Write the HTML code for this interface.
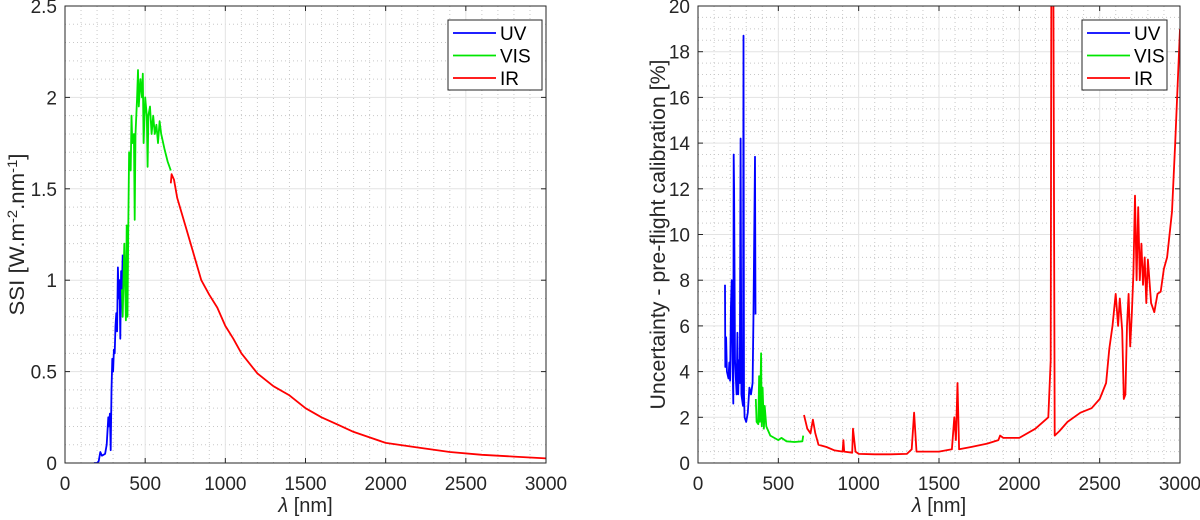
<!DOCTYPE html>
<html><head><meta charset="utf-8"><style>
html,body{margin:0;padding:0;background:#fff}
svg{display:block;font-family:"Liberation Sans",sans-serif}
</style></head><body>
<svg id="chart" width="1200" height="520" viewBox="0 0 1200 520" xmlns="http://www.w3.org/2000/svg"></svg>
<script>
// ---- Left chart data: SSI ----
const ssiUV = [[180,0],[200,0],[210,0.01],[220,0.06],[230,0.04],[250,0.05],[260,0.1],[270,0.25],[275,0.2],[280,0.27],[285,0.07],[290,0.4],[295,0.57],[300,0.5],[305,0.62],[310,0.6],[315,0.75],[320,0.82],[325,0.72],[330,1.07],[335,0.9],[340,1.0],[345,0.68],[350,1.05],[355,0.95],[360,1.14]];
const ssiVIS = [[355,0.95],[360,0.8],[370,1.2],[380,0.78],[385,1.3],[390,0.8],[395,1.3],[400,1.7],[410,1.6],[415,1.9],[420,1.75],[430,1.8],[435,1.33],[440,1.8],[450,2.0],[455,2.15],[460,1.95],[470,2.1],[480,2.0],[485,2.13],[490,1.75],[500,2.0],[510,1.9],[515,1.62],[520,1.9],[530,1.95],[540,1.8],[550,1.9],[560,1.8],[570,1.85],[580,1.75],[590,1.87],[600,1.8],[620,1.72],[640,1.65],[660,1.6]];
const ssiIR = [[660,1.53],[665,1.58],[680,1.55],[700,1.45],[750,1.3],[800,1.15],[850,1.0],[900,0.92],[950,0.85],[1000,0.75],[1050,0.68],[1100,0.6],[1200,0.49],[1300,0.42],[1400,0.37],[1500,0.3],[1600,0.25],[1700,0.21],[1800,0.17],[1900,0.14],[2000,0.11],[2200,0.085],[2400,0.06],[2600,0.045],[2800,0.035],[3000,0.025]];
const ssiYTicks = [0,0.5,1,1.5,2,2.5];
const xTicks = [0,500,1000,1500,2000,2500,3000];
// ---- Right chart data: uncertainty ----
const uncUV = [[168,7.8],[170,4.2],[175,5.5],[180,4.0],[190,3.7],[195,4.4],[200,3.6],[205,6.8],[210,8.0],[215,4.5],[220,2.6],[222,13.5],[225,12],[230,4.5],[240,3.0],[245,5.7],[250,3.0],[255,4.5],[260,3.5],[265,14.2],[270,3.0],[280,2.5],[283,18.7],[286,3.0],[290,2.0],[300,1.8],[310,2.2],[320,3.3],[330,3.0],[340,3.5],[345,6.2],[355,13.4],[358,6.5]];
const uncVIS = [[360,2.8],[365,1.8],[375,1.7],[380,3.8],[385,1.8],[393,4.8],[397,1.6],[402,3.3],[410,1.5],[415,2.5],[425,1.6],[450,1.2],[500,1.0],[520,1.1],[550,0.95],[600,0.92],[650,0.95],[655,1.2]];
const uncIR = [[660,2.1],[680,1.5],[700,1.3],[715,1.9],[730,1.3],[750,0.8],[800,0.7],[850,0.55],[900,0.5],[905,1.0],[910,0.5],[960,0.45],[965,1.5],[980,0.5],[1000,0.4],[1100,0.38],[1200,0.38],[1300,0.4],[1330,0.6],[1345,2.2],[1360,0.5],[1400,0.5],[1500,0.5],[1580,0.6],[1595,2.0],[1605,1.0],[1615,3.5],[1625,0.6],[1700,0.7],[1800,0.85],[1870,1.0],[1880,1.2],[1900,1.1],[2000,1.1],[2100,1.5],[2180,2.0],[2195,4.5],[2200,25],[2210,25],[2220,1.2],[2250,1.4],[2300,1.8],[2380,2.2],[2450,2.4],[2500,2.8],[2540,3.5],[2560,5.0],[2580,6.0],[2600,7.4],[2615,6.0],[2625,7.2],[2640,5.8],[2650,2.8],[2660,3.0],[2670,6.0],[2680,7.4],[2690,5.1],[2700,6.5],[2710,8.3],[2720,11.7],[2730,8.0],[2740,11.2],[2750,8.0],[2760,9.6],[2770,7.8],[2780,9.0],[2790,7.0],[2800,8.9],[2820,7.0],[2840,6.6],[2860,7.4],[2880,7.5],[2900,8.5],[2920,9.0],[2950,11],[2970,14],[3000,19]];
const uncYTicks = [0,2,4,6,8,10,12,14,16,18,20];
const legendLabels = ["UV","VIS","IR"];
const colors = ["#0000ff","#00e600","#ff0000"];

const svg = document.getElementById('chart');
const NS = "http://www.w3.org/2000/svg";
function mk(tag, attrs, parent){const e=document.createElementNS(NS,tag);for(const k in attrs)e.setAttribute(k,attrs[k]);(parent||svg).appendChild(e);return e;}

function drawPanel(o){
  const g = mk('g',{});
  
  
  const sx = v => o.x0 + (v/3000)*(o.x1-o.x0);
  const sy = v => o.y1 - (v/o.ymax)*(o.y1-o.y0);
  for(let v=100; v<3000; v+=100){ if(v%500) mk('line',{x1:sx(v),x2:sx(v),y1:o.y0,y2:o.y1,stroke:'#c8c8c8','stroke-width':1,'stroke-dasharray':'1,3'},g); }
  for(let v=o.ymin; v<o.ymax-1e-9; v+=o.ymin){ const r=v/o.ymajor; if(Math.abs(r-Math.round(r))>1e-6) mk('line',{x1:o.x0,x2:o.x1,y1:sy(v),y2:sy(v),stroke:'#c8c8c8','stroke-width':1,'stroke-dasharray':'1,3'},g); }
  xTicks.forEach(v=>{
    mk('line',{x1:sx(v),x2:sx(v),y1:o.y0,y2:o.y1,stroke:'#e3e3e3','stroke-width':1},g);
    mk('line',{x1:sx(v),x2:sx(v),y1:o.y1,y2:o.y1-5,stroke:'#262626'},g);
    mk('line',{x1:sx(v),x2:sx(v),y1:o.y0,y2:o.y0+5,stroke:'#262626'},g);
    const t=mk('text',{x:sx(v),y:o.y1+27,'text-anchor':'middle','font-size':19,fill:'#262626'},g);t.textContent=v;
    
    
  });
  o.yticks.forEach(v=>{
    mk('line',{x1:o.x0,x2:o.x1,y1:sy(v),y2:sy(v),stroke:'#e3e3e3','stroke-width':1},g);
    mk('line',{x1:o.x0,x2:o.x0+5,y1:sy(v),y2:sy(v),stroke:'#262626'},g);
    mk('line',{x1:o.x1,x2:o.x1-5,y1:sy(v),y2:sy(v),stroke:'#262626'},g);
    const t=mk('text',{x:o.x0-8,y:sy(v)+7,'text-anchor':'end','font-size':19,fill:'#262626'},g);t.textContent=v;
    
    
  });
  const cp=mk('clipPath',{id:o.name+'-clip'},g);mk('rect',{x:o.x0,y:o.y0,width:o.x1-o.x0,height:o.y1-o.y0},cp);
  o.series.forEach((s,i)=>{
    const p=mk('polyline',{points:s.map(d=>sx(d[0]).toFixed(1)+','+sy(d[1]).toFixed(1)).join(' '),fill:'none',stroke:colors[i],'stroke-width':1.8,'stroke-linejoin':'round','clip-path':'url(#'+o.name+'-clip)'},g);
    
    
  });
  const fr=mk('rect',{x:o.x0,y:o.y0,width:o.x1-o.x0,height:o.y1-o.y0,fill:'none',stroke:'#262626','stroke-width':1},g);
  
  
  const xt=mk('text',{x:(o.x0+o.x1)/2,y:512,'text-anchor':'middle','font-size':20,fill:'#262626'},g);
  xt.innerHTML='<tspan font-style="italic">λ</tspan> [nm]';
  
  
  const yt=mk('text',{x:0,y:0,'text-anchor':'middle','font-size':21,fill:'#262626',textLength:o.ylen,lengthAdjust:'spacingAndGlyphs',transform:`translate(${o.ytx},${(o.y0+o.y1)/2}) rotate(-90)`},g);
  yt.innerHTML=o.ytitle;
  
  
  const lg=mk('g',{},g);
  
  
  mk('rect',{x:o.lx,y:20,width:o.lw,height:70,fill:'#fff',stroke:'#262626','stroke-width':1},lg);
  legendLabels.forEach((l,i)=>{
    const yy=33+i*22.5;
    const e=mk('g',{},lg);
    
    
    mk('line',{x1:o.lx+5,x2:o.lx+48,y1:yy,y2:yy,stroke:colors[i],'stroke-width':1.8},e);
    const t=mk('text',{x:o.lx+52,y:yy+7,'font-size':19,fill:'#000'},e);t.textContent=l;
  });
}

drawPanel({name:'ssi-chart',x0:65,x1:546,y0:6,y1:463,ymax:2.5,ymin:0.1,ymajor:0.5,yticks:ssiYTicks,
  series:[ssiUV,ssiVIS,ssiIR],ytx:24,lx:448,lw:94,ylen:162,
  ytitle:'SSI [W.m<tspan dy="-7" font-size="14">-2</tspan><tspan dy="7">.nm</tspan><tspan dy="-7" font-size="14">-1</tspan><tspan dy="7">]</tspan>'});
drawPanel({name:'uncertainty-chart',x0:698,x1:1180,y0:6,y1:463,ymax:20,ymin:0.5,ymajor:2,yticks:uncYTicks,
  series:[uncUV,uncVIS,uncIR],ytx:665,lx:1082,lw:85,ylen:350,
  ytitle:'Uncertainty - pre-flight calibration [%]'});
</script>
</body></html>
